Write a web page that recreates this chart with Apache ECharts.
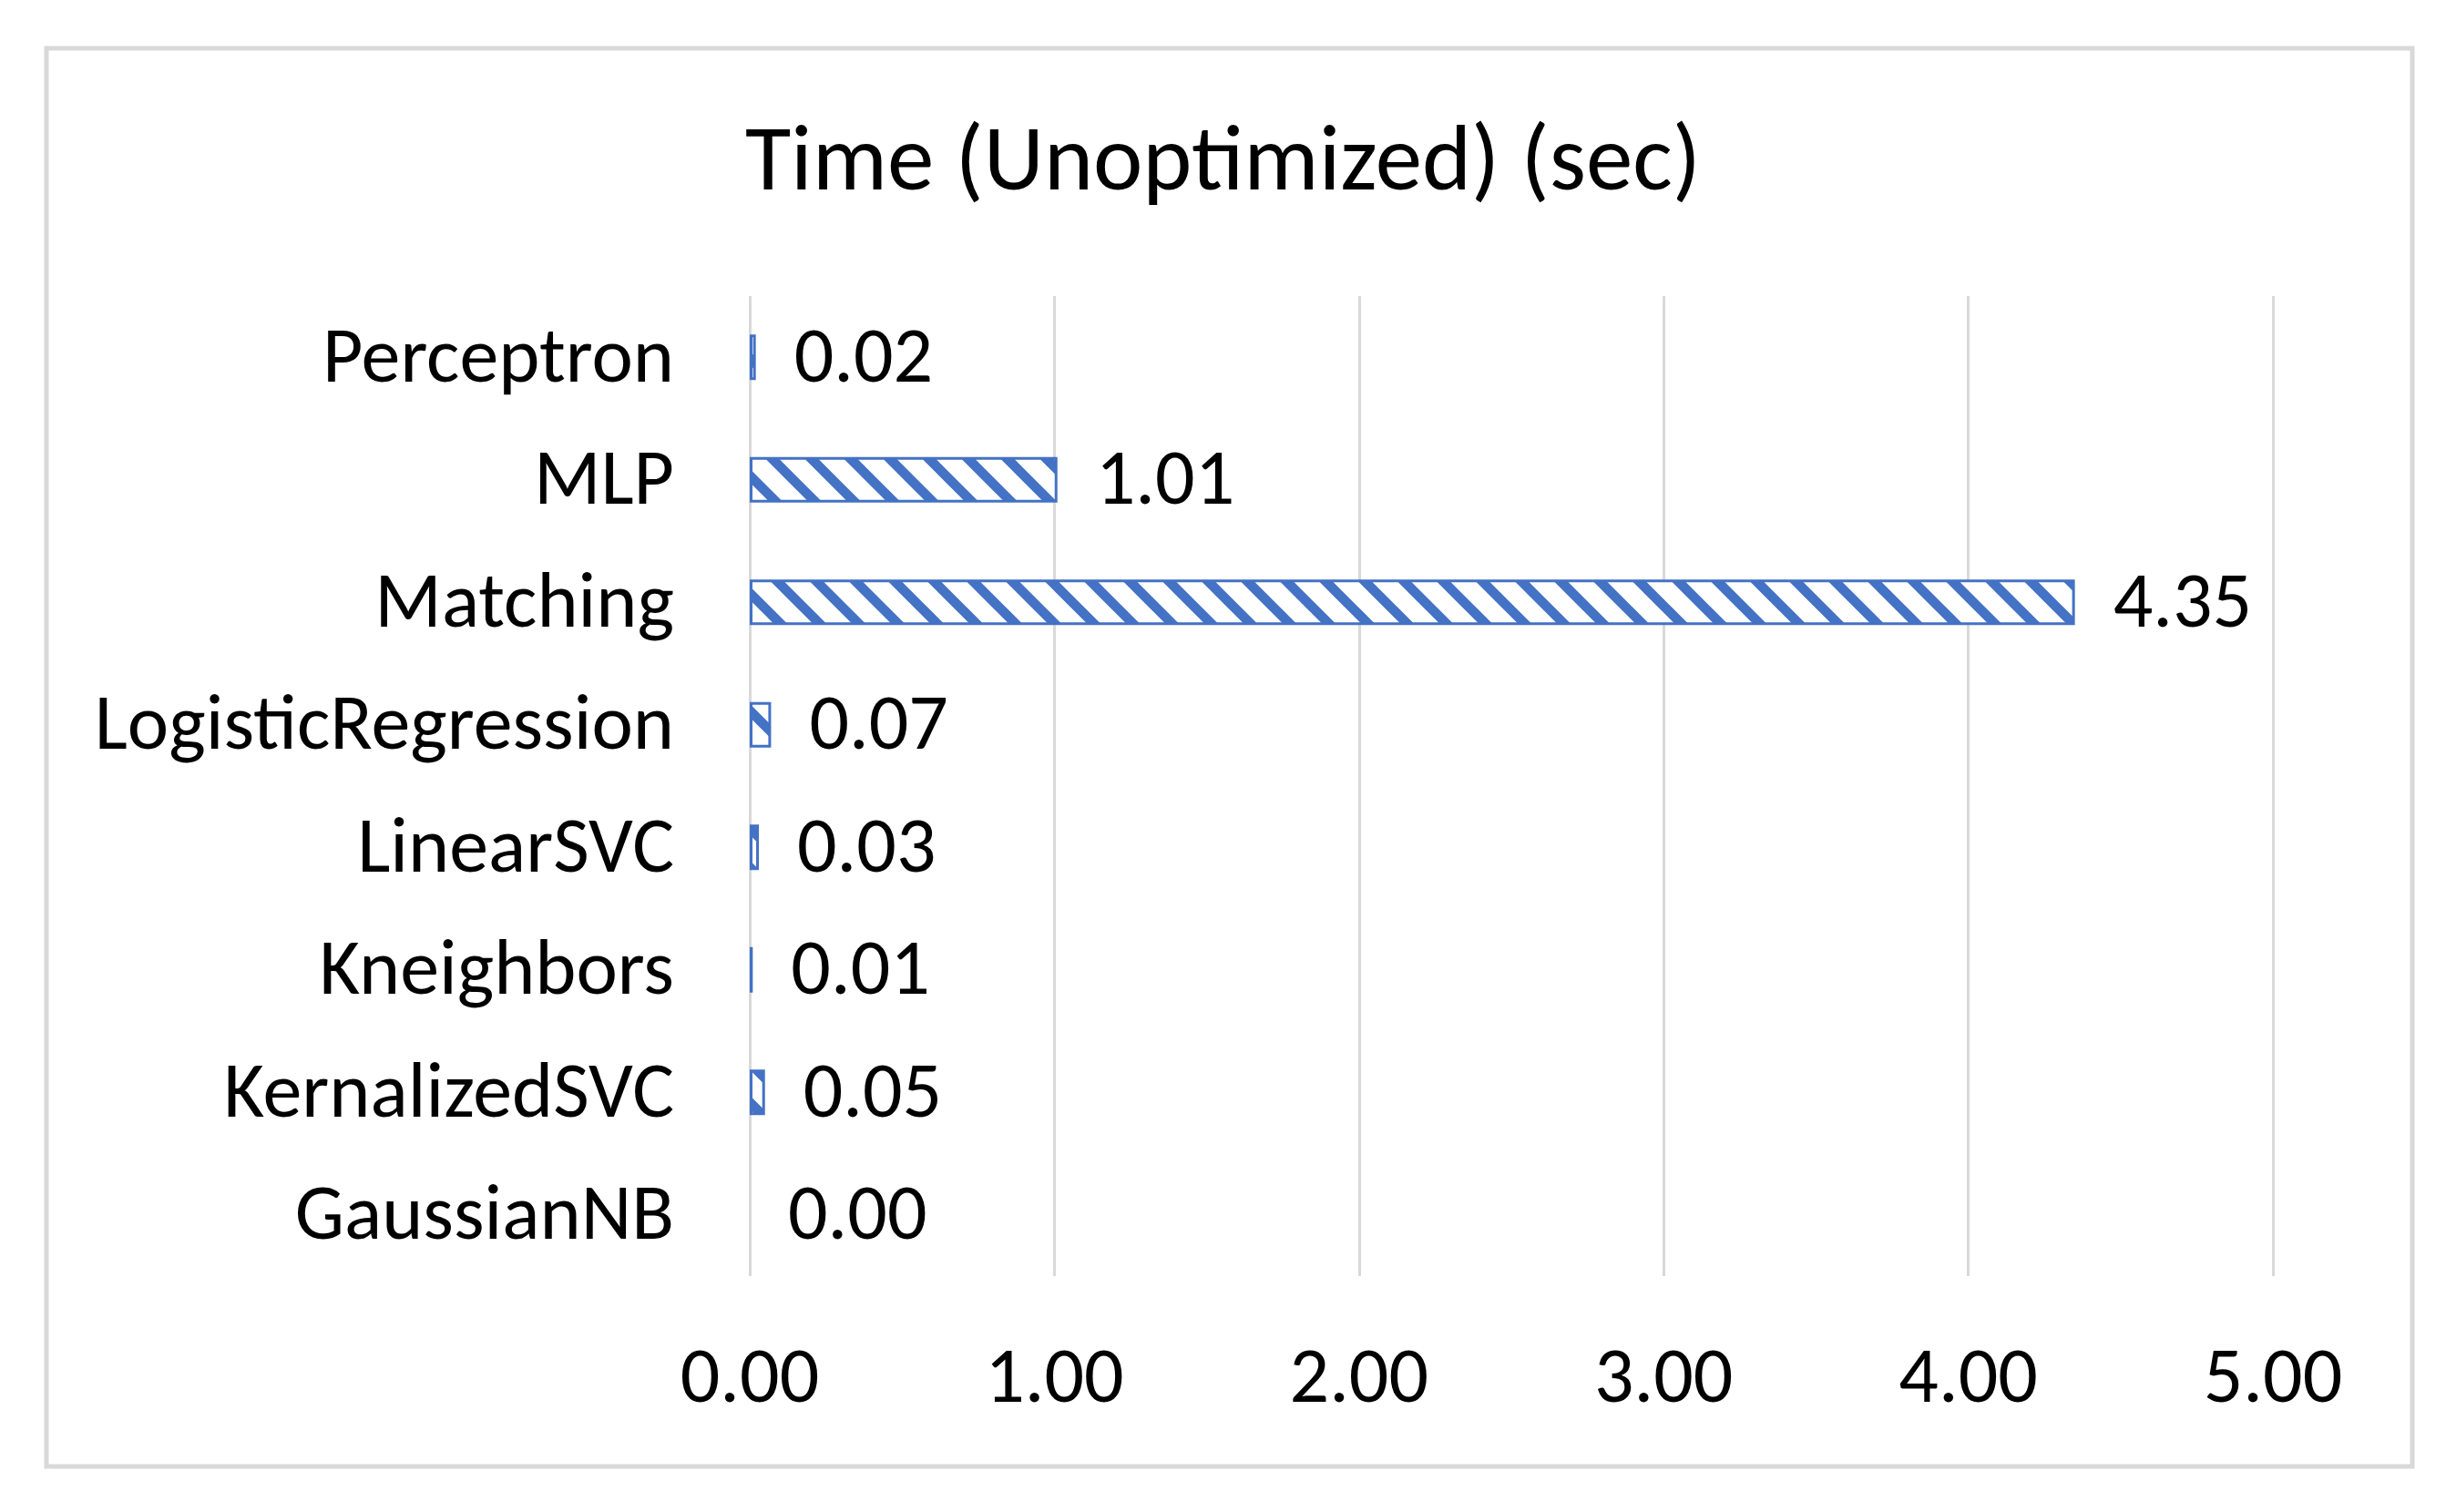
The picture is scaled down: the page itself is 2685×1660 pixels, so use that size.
<!DOCTYPE html>
<html>
<head>
<meta charset="utf-8">
<script src="https://cdn.jsdelivr.net/npm/echarts@6/dist/echarts.min.js"></script>
<style>
  html, body { margin: 0; padding: 0; background: #fff; }
  #main { width: 2685px; height: 1660px; }
</style>
</head>
<body>
<div id="main"></div>
<script>
// categories top to bottom
var categories = ['Perceptron', 'MLP', 'Matching', 'LogisticRegression', 'LinearSVC', 'Kneighbors', 'KernalizedSVC', 'GaussianNB'];
var times = [0.02, 1.01, 4.35, 0.07, 0.03, 0.01, 0.05, 0.00];
var xTicks = [0, 1, 2, 3, 4, 5];

var blue = '#4472C4';
var fontFam = 'Calibri, Carlito, Lato, sans-serif';

// diagonal stripe pattern, like excel "wide downward diagonal"
function makeStripes() {
	var s = 43;
	var c = document.createElement('canvas');
	c.width = s; c.height = s;
	var ctx = c.getContext('2d');
	ctx.fillStyle = '#fff';
	ctx.fillRect(0, 0, s, s);
	ctx.strokeStyle = blue;
	ctx.lineWidth = 10.5;
	for (var k = -1; k <= 1; k++) {
		ctx.beginPath();
		ctx.moveTo(k * s - 10, -10);
		ctx.lineTo(k * s + s + 10, s + 10);
		ctx.stroke();
	}
	return c;
}
var stripes = makeStripes();

var barData = times.map(function (v) {
	return {
		value: v,
		itemStyle: v === 0 ? { borderWidth: 0 } : {}
	};
});

var chart = echarts.init(document.getElementById('main'));
var option = {
	backgroundColor: '#fff',
	animation: false,
	title: {
		text: 'Time (Unoptimized) (sec)',
		left: 'center',
		top: 126,
		textStyle: { fontFamily: fontFam, fontSize: 103, fontWeight: 'normal', color: '#000' }
	},
	graphic: [{
		type: 'rect',
		shape: { x: 51, y: 53, width: 2597, height: 1557 },
		style: { fill: 'none', stroke: '#d9d9d9', lineWidth: 5 },
		silent: true
	}],
	grid: { left: 823, right: 190, top: 325, bottom: 259, containLabel: false },
	xAxis: {
		type: 'value',
		min: xTicks[0],
		max: xTicks[xTicks.length - 1],
		interval: 1,
		axisLine: { show: false },
		axisTick: { show: false },
		splitLine: { show: true, lineStyle: { color: '#d9d9d9', width: 3 } },
		axisLabel: {
			margin: 73,
			fontFamily: fontFam, fontSize: 86, color: '#000',
			formatter: function (v) { return v.toFixed(2); }
		}
	},
	yAxis: {
		type: 'category',
		inverse: true,
		data: categories,
		axisLine: { show: false },
		axisTick: { show: false },
		axisLabel: {
			margin: 83,
			formatter: function (v) { return '{a|' + v + '}'; },
			rich: { a: { padding: [10, 0, 0, 0], fontFamily: fontFam, fontSize: 86, color: '#000' } }
		}
	},
	series: [{
		type: 'bar',
		data: barData,
		barWidth: 50,
		itemStyle: {
			color: { image: stripes, repeat: 'repeat' },
			borderColor: blue,
			borderWidth: 3
		},
		label: {
			show: true,
			position: 'right',
			distance: 42,
			offset: [0, 5],
			fontFamily: fontFam, fontSize: 86, color: '#000',
			formatter: function (p) { return p.value.toFixed(2); }
		}
	}]
};
chart.setOption(option);
</script>
</body>
</html>
